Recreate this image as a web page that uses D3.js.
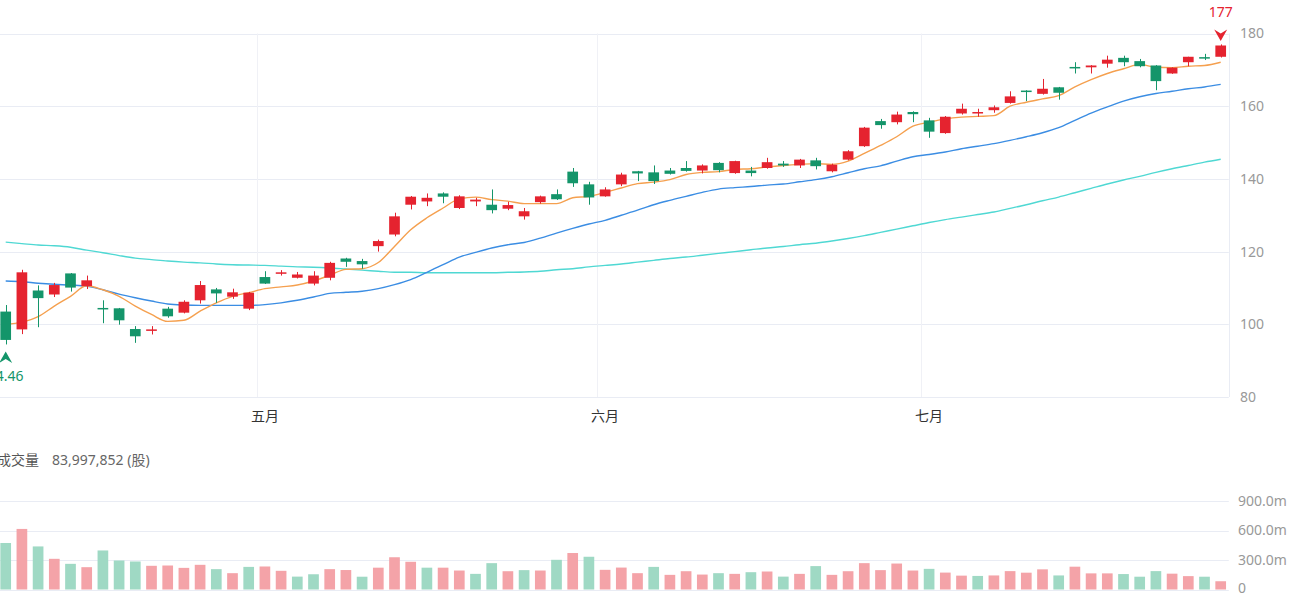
<!DOCTYPE html>
<html>
<head>
<meta charset="utf-8">
<script src="https://cdn.jsdelivr.net/npm/d3@7/dist/d3.min.js"></script>
<style>
  body { margin: 0; background: #fff; }
  svg { display: block; font-family: "Noto Sans", "Noto Sans CJK SC", sans-serif; }
</style>
</head>
<body>
<div id="chart"></div>
<script>
const dates = [
  "2025-04-08","2025-04-09","2025-04-10","2025-04-11","2025-04-14","2025-04-15","2025-04-16","2025-04-17",
  "2025-04-21","2025-04-22","2025-04-23","2025-04-24","2025-04-25","2025-04-28","2025-04-29","2025-04-30",
  "2025-05-01","2025-05-02","2025-05-05","2025-05-06","2025-05-07","2025-05-08","2025-05-09","2025-05-12",
  "2025-05-13","2025-05-14","2025-05-15","2025-05-16","2025-05-19","2025-05-20","2025-05-21","2025-05-22",
  "2025-05-23","2025-05-27","2025-05-28","2025-05-29","2025-05-30",
  "2025-06-02","2025-06-03","2025-06-04","2025-06-05","2025-06-06","2025-06-09","2025-06-10","2025-06-11",
  "2025-06-12","2025-06-13","2025-06-16","2025-06-17","2025-06-18","2025-06-20","2025-06-23","2025-06-24",
  "2025-06-25","2025-06-26","2025-06-27","2025-06-30",
  "2025-07-01","2025-07-02","2025-07-03","2025-07-07","2025-07-08","2025-07-09","2025-07-10","2025-07-11",
  "2025-07-14","2025-07-15","2025-07-16","2025-07-17","2025-07-18","2025-07-21","2025-07-22","2025-07-23",
  "2025-07-24","2025-07-25","2025-07-28"
];

const open = [
  103.5, 98.6, 109.3, 108.2, 114.0, 110.5, 104.5, 104.4, 98.7, 98.3, 104.3, 103.2, 106.6, 109.6, 107.6, 104.3,
  113.0, 114.0, 112.8, 111.2, 112.8, 118.1, 117.4, 121.5, 124.7, 132.9, 133.8, 136.0, 132.0, 133.8, 132.9, 131.8,
  129.7, 133.6, 135.8, 142.0, 138.5,
  135.2, 138.5, 142.1, 141.8, 142.3, 143.0, 142.3, 144.4, 141.6, 142.3, 143.0, 144.2, 143.7, 145.1, 142.1, 145.3,
  149.0, 155.9, 155.6, 158.4,
  156.1, 152.6, 158.0, 158.0, 158.9, 160.9, 164.3, 163.4, 165.2, 170.8, 170.7, 171.7, 173.3, 172.4, 171.2, 169.0,
  172.1, 173.5, 173.6
];
const high = [
  105.3, 115.0, 110.7, 111.4, 114.1, 113.4, 106.6, 104.5, 99.5, 99.5, 104.8, 106.6, 111.9, 110.0, 109.8, 108.9,
  114.6, 114.9, 114.4, 114.6, 117.2, 118.3, 118.0, 123.3, 130.7, 135.3, 136.0, 136.3, 135.5, 134.8, 137.1, 133.7,
  132.0, 135.4, 137.1, 143.0, 139.2,
  137.7, 141.7, 142.2, 143.7, 143.0, 144.9, 144.0, 144.6, 145.0, 143.3, 145.8, 144.9, 145.5, 145.8, 144.2, 147.9,
  154.3, 156.5, 158.5, 158.6,
  156.8, 157.3, 160.7, 159.3, 160.2, 164.1, 164.4, 167.5, 165.3, 172.1, 171.3, 173.9, 173.9, 173.0, 171.3, 170.7,
  173.6, 174.4, 177
];
const low = [
  94.46, 97.3, 99.2, 107.5, 109.0, 109.7, 100.3, 99.9, 94.9, 97.2, 101.8, 103.0, 105.7, 105.9, 107.0, 103.9,
  111.1, 113.4, 112.6, 110.7, 112.1, 115.8, 115.3, 120.0, 124.2, 131.6, 132.5, 133.3, 131.7, 132.5, 130.5, 131.4,
  128.8, 133.2, 134.2, 137.8, 132.9,
  135.1, 138.0, 139.4, 138.6, 141.2, 142.0, 141.5, 141.8, 141.4, 140.7, 142.8, 143.3, 143.0, 142.6, 141.8, 145.1,
  148.8, 153.8, 155.0, 155.6,
  151.3, 152.4, 157.7, 157.1, 158.2, 160.7, 161.4, 163.2, 161.8, 169.0, 169.0, 170.6, 171.0, 170.7, 164.4, 168.9,
  171.0, 172.7, 173.4
];
const close = [
  95.7, 114.3, 107.2, 110.8, 110.1, 112.1, 104.2, 101.1, 96.7, 98.6, 102.2, 106.2, 110.8, 108.5, 108.8, 108.7,
  111.2, 114.3, 113.7, 113.4, 116.9, 117.2, 116.5, 122.9, 129.7, 135.1, 134.8, 135.1, 135.2, 134.3, 131.4, 132.8,
  131.1, 135.2, 134.4, 138.8, 134.9,
  137.1, 141.2, 141.5, 139.4, 141.4, 142.2, 143.7, 142.4, 144.9, 141.6, 144.6, 143.7, 145.3, 143.5, 143.9, 147.6,
  154.1, 154.8, 157.7, 157.8,
  153.0, 157.1, 159.3, 158.4, 159.7, 162.7, 163.9, 164.8, 163.7, 170.4, 171.2, 172.8, 172.1, 171.0, 166.9, 170.6,
  173.6, 173.1, 176.7
];

// volume in millions of shares
const volume = [
  473, 616, 438, 312, 261, 227, 397, 295, 285, 241, 244, 220, 251, 207, 166, 230,
  234, 190, 131, 155, 207, 198, 130, 222, 328, 282, 222, 222, 193, 159, 268, 186,
  197, 193, 302, 371, 333,
  200, 223, 166, 230, 149, 186, 152, 166, 159, 176, 183, 131, 159, 238, 149, 186,
  268, 197, 264, 193,
  210, 172, 141, 138, 143, 187, 171, 205, 143, 232, 164, 164, 157, 130, 187, 161,
  136, 130, 83.997852
];

const ma5 = [
  100.0, 100.6, 102.1, 105.0, 107.7, 110.6, 109.5, 107.7, 105.0, 102.7, 100.8, 101.1, 103.6, 105.9, 107.7, 108.7,
  109.8, 110.3, 110.8, 111.9, 113.5, 115.1, 115.3, 117.0, 121.4, 126.0, 129.3, 132.0, 134.5, 135.0, 134.3, 133.9,
  133.2, 133.2, 133.2, 134.8, 135.2,
  136.3, 137.5, 138.7, 139.1, 139.8, 141.2, 141.8, 142.0, 142.6, 142.8, 143.3, 143.7, 144.0, 144.2, 144.0, 144.9,
  147.0, 149.2, 151.6, 154.5,
  155.6, 156.5, 157.0, 157.2, 157.4, 160.0, 161.1, 162.0, 162.9, 165.3, 167.3, 169.0, 170.3, 171.5, 170.7, 170.6,
  171.0, 171.2, 172.1
];
const ma20 = [
  111.9, 111.7, 111.3, 111.0, 110.8, 110.5, 109.5, 108.3, 107.3, 106.4, 105.6, 105.3, 105.2, 105.2, 105.2, 105.2,
  105.4, 105.9, 106.6, 107.5, 108.5, 108.8, 109.1, 109.8, 110.9, 112.3, 114.3, 116.4, 118.5, 119.8, 121.0, 121.9,
  122.5, 123.7, 125.1, 126.4, 127.6,
  128.6, 130.0, 131.4, 132.9, 134.1, 135.2, 136.3, 137.2, 137.6, 137.9, 138.3, 138.6, 139.2, 139.8, 140.6, 141.7,
  142.8, 143.6, 144.9, 146.1,
  146.7, 147.4, 148.3, 149.0, 149.7, 150.6, 151.6, 152.7, 154.1, 156.1, 158.1, 159.8, 161.4, 162.6, 163.5, 164.1,
  164.8, 165.3, 166.0
];
const ma60 = [
  122.6, 122.2, 121.8, 121.6, 121.2, 120.4, 119.7, 118.9, 118.2, 117.8, 117.4, 117.1, 116.9, 116.6, 116.4, 116.3,
  116.2, 116.0, 115.8, 115.7, 115.5, 115.2, 114.9, 114.6, 114.3, 114.3, 114.2, 114.2, 114.2, 114.2, 114.2, 114.3,
  114.4, 114.6, 115.0, 115.3, 115.8,
  116.2, 116.6, 117.1, 117.6, 118.1, 118.5, 119.0, 119.5, 120.0, 120.5, 121.0, 121.4, 121.9, 122.3, 122.9, 123.6,
  124.4, 125.3, 126.2, 127.1,
  128.0, 128.8, 129.5, 130.2, 130.9, 131.9, 132.9, 134.0, 135.0, 136.2, 137.4, 138.6, 139.7, 140.7, 141.8, 142.8,
  143.7, 144.6, 145.4
];

const priceTicks = [80, 100, 120, 140, 160, 180];
const volumeTicks = [0, 300, 600, 900];
const monthNames = { 5: "五月", 6: "六月", 7: "七月" };

const width = 1300, height = 600;
const up = "#e5232f", down = "#14956a";
const volUp = "#f4a3a8", volDown = "#9fd9c4";
const gridColor = "#e9ecf4";

const rows = dates.map((d, i) => ({
  date: d, o: open[i], h: high[i], l: low[i], c: close[i], v: volume[i],
  ma5: ma5[i], ma20: ma20[i], ma60: ma60[i],
  volRise: i > 0 && close[i] >= close[i - 1]
}));

const svg = d3.select("#chart").append("svg")
  .attr("width", width)
  .attr("height", height);

const x = d3.scaleBand()
  .domain(dates)
  .range([-2.4, 1228.8])
  .paddingInner(0.34)
  .paddingOuter(0.17);
const step = x.step();
const cx = d => x(d) + x.bandwidth() / 2;

const y = d3.scaleLinear().domain([80, 180]).range([397, 33.5]);
const yv = d3.scaleLinear().domain([0, 900]).range([589.5, 501]);

const plotLeft = 0, plotRight = 1228.8;

// price grid
svg.append("g")
  .selectAll("line")
  .data(priceTicks)
  .join("line")
  .attr("x1", plotLeft).attr("x2", plotRight)
  .attr("y1", d => Math.round(y(d)) + 0.5).attr("y2", d => Math.round(y(d)) + 0.5)
  .attr("stroke", gridColor);

// month boundaries
const monthStarts = rows.filter((r, i) => i > 0 && r.date.slice(5, 7) !== rows[i - 1].date.slice(5, 7));
svg.append("g")
  .selectAll("line")
  .data(monthStarts)
  .join("line")
  .attr("x1", d => Math.round(cx(d.date) - step / 2) + 0.5)
  .attr("x2", d => Math.round(cx(d.date) - step / 2) + 0.5)
  .attr("y1", y(180)).attr("y2", y(80))
  .attr("stroke", "#f0f1f6");

// right border
svg.append("line")
  .attr("x1", Math.round(plotRight) + 0.5).attr("x2", Math.round(plotRight) + 0.5)
  .attr("y1", y(180)).attr("y2", y(80))
  .attr("stroke", gridColor);

// price labels
svg.append("g")
  .selectAll("text")
  .data(priceTicks)
  .join("text")
  .attr("x", 1240)
  .attr("y", d => y(d))
  .attr("dy", "0.35em")
  .attr("font-size", 14)
  .attr("fill", "#999")
  .text(d => d);

// month labels
svg.append("g")
  .selectAll("text")
  .data(monthStarts)
  .join("text")
  .attr("x", d => cx(d.date))
  .attr("y", 416)
  .attr("dy", "0.35em")
  .attr("text-anchor", "middle")
  .attr("font-size", 14)
  .attr("fill", "#333")
  .text(d => monthNames[+d.date.slice(5, 7)]);

// moving averages
const maLine = key => d3.line()
  .x(d => cx(d.date))
  .y(d => y(d[key]))
  .curve(d3.curveMonotoneX);

[["ma60", "#4fd8d3"], ["ma20", "#3b8de3"], ["ma5", "#f5a04f"]].forEach(([key, color]) => {
  svg.append("path")
    .datum(rows)
    .attr("d", maLine(key))
    .attr("fill", "none")
    .attr("stroke", color)
    .attr("stroke-width", 1.4);
});

// candles
const candle = svg.append("g")
  .selectAll("g")
  .data(rows)
  .join("g")
  .attr("fill", d => d.c >= d.o ? up : down)
  .attr("stroke", d => d.c >= d.o ? up : down);

candle.append("line")
  .attr("x1", d => Math.round(cx(d.date)) + 0.5)
  .attr("x2", d => Math.round(cx(d.date)) + 0.5)
  .attr("y1", d => y(d.h))
  .attr("y2", d => y(d.l))
  .attr("stroke-width", 1);

candle.append("rect")
  .attr("x", d => x(d.date))
  .attr("width", x.bandwidth())
  .attr("y", d => y(Math.max(d.o, d.c)))
  .attr("height", d => Math.max(1.5, Math.abs(y(d.o) - y(d.c))))
  .attr("stroke", "none");

// high / low markers
const maxRow = rows.reduce((a, b) => (b.h > a.h ? b : a));
const minRow = rows.reduce((a, b) => (b.l < a.l ? b : a));
const arrow = "M0,0 L6.5,11.5 L0,7.5 L-6.5,11.5 Z";

const hx = cx(maxRow.date), hy = y(maxRow.h) - 3.5;
svg.append("path")
  .attr("d", arrow)
  .attr("transform", `translate(${hx},${hy}) scale(1,-1)`)
  .attr("fill", up);
svg.append("text")
  .attr("x", hx).attr("y", hy - 29)
  .attr("dy", "0.35em")
  .attr("text-anchor", "middle")
  .attr("font-size", 14)
  .attr("fill", up)
  .text(String(maxRow.h));

const lx = cx(minRow.date), ly = y(minRow.l) + 7;
svg.append("path")
  .attr("d", arrow)
  .attr("transform", `translate(${lx},${ly})`)
  .attr("fill", down);
svg.append("text")
  .attr("x", lx).attr("y", ly + 25)
  .attr("dy", "0.35em")
  .attr("text-anchor", "middle")
  .attr("font-size", 14)
  .attr("fill", down)
  .text(String(minRow.l));

// volume panel
const last = rows[rows.length - 1];
const header = svg.append("text")
  .attr("x", -3).attr("y", 460)
  .attr("dy", "0.35em")
  .attr("font-size", 14);
header.append("tspan").attr("fill", "#555").text("成交量");
header.append("tspan").attr("x", 52).attr("fill", "#666")
  .text(`${d3.format(",")(Math.round(last.v * 1e6))} (股)`);

svg.append("g")
  .selectAll("line")
  .data(volumeTicks)
  .join("line")
  .attr("x1", plotLeft).attr("x2", plotRight)
  .attr("y1", d => Math.round(yv(d)) + 0.5).attr("y2", d => Math.round(yv(d)) + 0.5)
  .attr("stroke", gridColor);

svg.append("g")
  .selectAll("text")
  .data(volumeTicks)
  .join("text")
  .attr("x", 1238)
  .attr("y", d => yv(d) - (d === 0 ? 1.5 : 0))
  .attr("dy", "0.35em")
  .attr("font-size", 14)
  .attr("fill", "#999")
  .text(d => d === 0 ? "0" : d.toFixed(1) + "m");

svg.append("g")
  .selectAll("rect")
  .data(rows)
  .join("rect")
  .attr("x", d => x(d.date))
  .attr("width", x.bandwidth())
  .attr("y", d => yv(d.v))
  .attr("height", d => yv(0) - yv(d.v))
  .attr("fill", d => d.volRise ? volUp : volDown);
</script>
</body>
</html>
